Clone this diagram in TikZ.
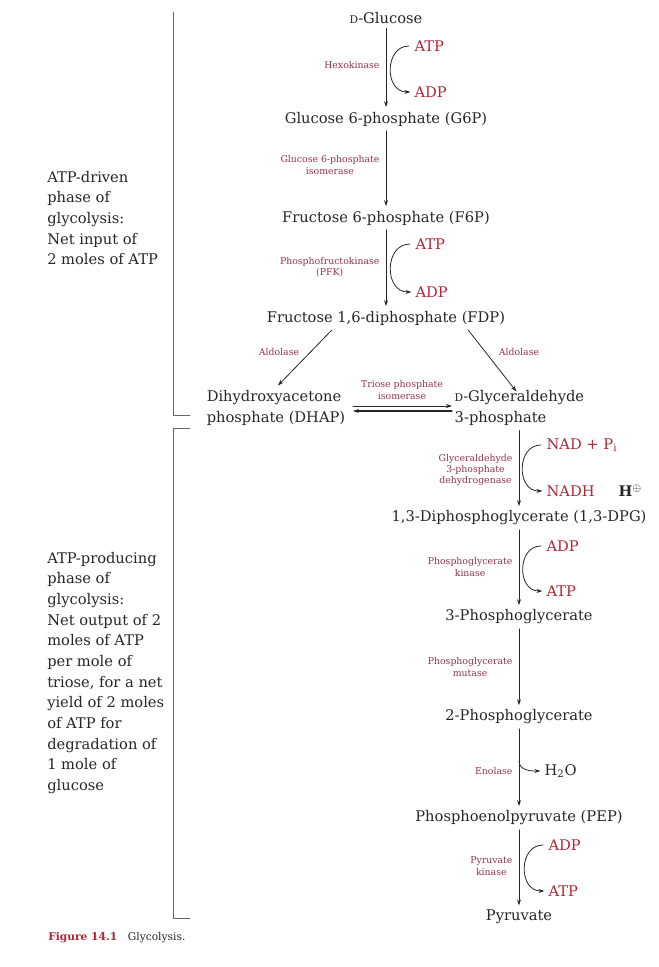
\documentclass[tikz,border=0pt]{standalone}
\usepackage{fontspec}
\setmainfont{DejaVu Serif}
\usetikzlibrary{arrows.meta,calc}
\definecolor{cofred}{RGB}{178,36,52}
\definecolor{enzred}{RGB}{152,48,72}
\definecolor{ink}{RGB}{38,38,38}
\tikzset{
	met/.style={text=ink,font=\fontsize{11}{16}\selectfont,align=left},
	cof/.style={text=cofred,font=\fontsize{11}{13}\selectfont,inner sep=1pt,anchor=west},
	enz/.style={text=enzred,font=\fontsize{7}{8.5}\selectfont,align=center,inner sep=1pt,anchor=east},
	side/.style={text=ink,font=\fontsize{11}{15.5}\selectfont,align=left,anchor=west,inner sep=0pt},
	rxn/.style={->,line width=0.6pt,draw=ink},
	cofarc/.style={rxn,out=180,in=180,looseness=1.6,shorten <=3pt,shorten >=2pt},
	brk/.style={line width=0.5pt,draw=black!60}
}
\newcommand{\smD}{{\fontsize{8}{8}\selectfont D}}
\begin{document}
\begin{tikzpicture}[x=0.75pt,y=-0.75pt,line join=round,line cap=round,>={Stealth[length=4.5pt,width=3pt]}] % glycolysis
			\useasboundingbox (0,0) rectangle (659,967);
			% ATP-driven phase
			\node[met] (glc) at (386,18) {\smD-Glucose};
			\node[met] (g6p) at (386,119) {Glucose 6-phosphate (G6P)};
			\node[met] (f6p) at (386,218) {Fructose 6-phosphate (F6P)};
			\node[met] (fdp) at (386,318) {Fructose 1,6-diphosphate (FDP)};
			\node[met] (dhap) at (276,408) {Dihydroxyacetone\\phosphate (DHAP)};
			\node[met,anchor=west] (gap) at (450,408) {\smD-Glyceraldehyde\\3-phosphate};
			\node[cof] (atp1) at (413,46) {ATP};
			\node[cof] (adp1) at (413,92) {ADP};
			\node[cof] (atp2) at (414,244) {ATP};
			\node[cof] (adp2) at (414,292) {ADP};
			\node[enz] (hk) at (381,65) {Hexokinase};
			\node[enz] (gpi) at (381,165) {Glucose 6-phosphate\\isomerase};
			\node[enz] (pfk) at (381,267) {Phosphofructokinase\\(PFK)};
			\node[enz,anchor=center] (ald1) at (279,352) {Aldolase};
			\node[enz,anchor=center] (ald2) at (519,352) {Aldolase};
			\node[enz,anchor=center] (tpi) at (402,390) {Triose phosphate\\isomerase};
			\draw[rxn] (glc) -- (g6p);
			\draw[rxn] (g6p) -- (f6p);
			\draw[rxn] (f6p) -- (fdp);
			\draw[cofarc] (atp1.west) to (adp1.west);
			\draw[cofarc] (atp2.west) to (adp2.west);
			\draw[rxn] ($(fdp.south)+(-54,0)$) -- ($(dhap.north)+(2,0)$);
			\draw[rxn] ($(fdp.south)+(82,0)$) -- ($(gap.north)+(-3,6)$);
			\draw[rxn] ($(dhap.east)+(3,-2)$) -- ($(gap.west)+(2,-2)$);
			\draw[rxn,line width=0.9pt] ($(gap.west)+(2,3)$) -- ($(dhap.east)+(3,3)$);
			% ATP-producing phase
			\node[met] (dpg) at (519,518) {1,3-Diphosphoglycerate (1,3-DPG)};
			\node[met] (pg3) at (519,617) {3-Phosphoglycerate};
			\node[met] (pg2) at (519,717) {2-Phosphoglycerate};
			\node[met] (pep) at (519,818) {Phosphoenolpyruvate (PEP)};
			\node[met] (pyr) at (519,917) {Pyruvate};
			\node[cof] (nad) at (545,445) {NAD + P\textsubscript{i}};
			\node[cof] (nadh) at (545,491) {NADH};
			\node[cof,text=ink] (hplus) at (617,491) {\textbf{H}$^{\oplus}$};
			\node[cof] (adp3) at (545,546) {ADP};
			\node[cof] (atp3) at (545,591) {ATP};
			\node[cof,text=ink] (h2o) at (543,771) {H\textsubscript{2}O};
			\node[cof] (adp4) at (547,845) {ADP};
			\node[cof] (atp4) at (547,891) {ATP};
			\node[enz] (gapdh) at (514,470) {Glyceraldehyde\\3-phosphate\\dehydrogenase};
			\node[enz] (pgk) at (514,567) {Phosphoglycerate\\kinase};
			\node[enz] (pgm) at (514,667) {Phosphoglycerate\\mutase};
			\node[enz] (eno) at (514,771) {Enolase};
			\node[enz] (pk) at (514,866) {Pyruvate\\kinase};
			\coordinate (enoc) at (519,761);
			\draw[rxn] (dpg.north |- gap.south) -- (dpg);
			\draw[rxn] (dpg) -- (pg3);
			\draw[rxn] (pg3) -- (pg2);
			\draw[rxn] (pg2) -- (pep);
			\draw[rxn] (pep) -- (pyr);
			\draw[cofarc] (nad.west) to (nadh.west);
			\draw[cofarc] (adp3.west) to (atp3.west);
			\draw[cofarc] (adp4.west) to (atp4.west);
			\draw[rxn,shorten >=2pt] (enoc) to[out=-90,in=180] (h2o.west);
			% phase brackets
			\node[side] (phase1) at (47,218) {ATP-driven\\phase of\\glycolysis:\\Net input of\\2 moles of ATP};
			\node[side] (phase2) at (47,673) {ATP-producing\\phase of\\glycolysis:\\Net output of 2\\moles of ATP\\per mole of\\triose, for a net\\yield of 2 moles\\of ATP for\\degradation of\\1 mole of\\glucose};
			\draw[brk] (173,12) -- (173,415) -- (190,415);
			\draw[brk] (190,428) -- (173,428) -- (173,918) -- (190,918);
			\node[anchor=west,inner sep=0pt,text=ink,font=\fontsize{8}{10}\selectfont] (cap) at (48,938) {\textcolor{cofred}{\bfseries Figure 14.1}\quad Glycolysis.};
\end{tikzpicture}
\end{document}
